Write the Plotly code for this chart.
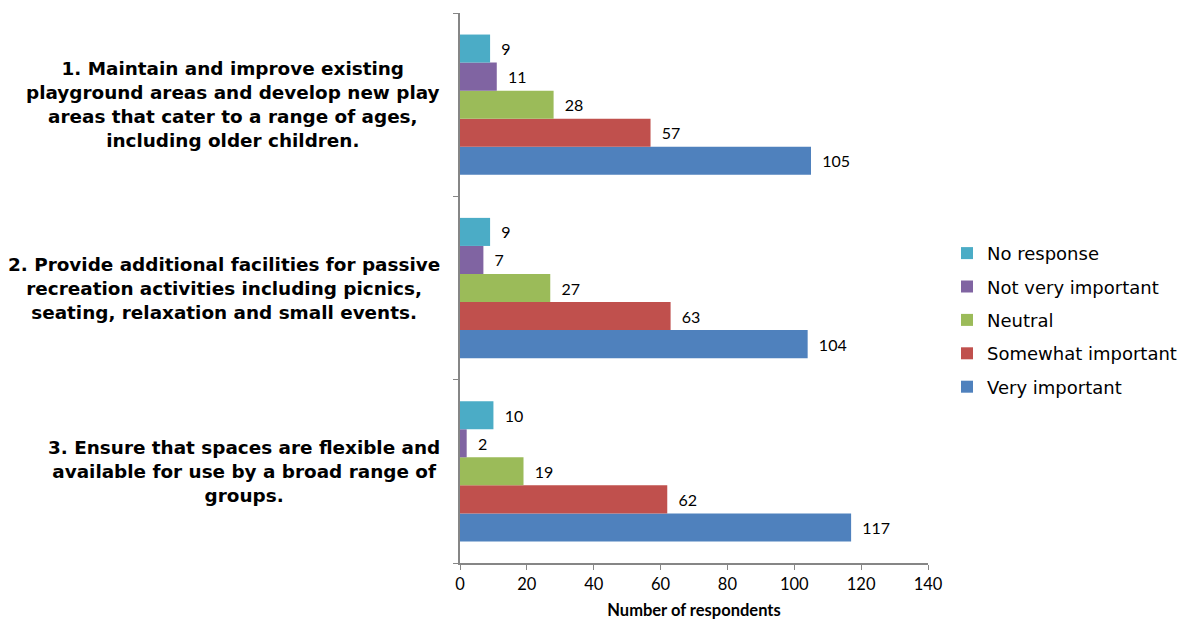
import plotly.graph_objects as go

categories = [
    "1. Maintain and improve existing<br>playground areas and develop new play<br>areas that cater to a range of ages,<br>including older children.",
    "2. Provide additional facilities for passive<br>recreation activities including picnics,<br>seating, relaxation and small events.",
    "3. Ensure that spaces are flexible and<br>available for use by a broad range of<br>groups.",
]
cat_keys = ["Q1", "Q2", "Q3"]

series_names = ["Very important", "Somewhat important", "Neutral", "Not very important", "No response"]
very_important = [105, 104, 117]
somewhat_important = [57, 63, 62]
neutral = [28, 27, 19]
not_very_important = [11, 7, 2]
no_response = [9, 9, 10]
series_values = [very_important, somewhat_important, neutral, not_very_important, no_response]
colors = ["#4F81BD", "#C0504D", "#9BBB59", "#8064A2", "#4BACC6"]

x_ticks = [0, 20, 40, 60, 80, 100, 120, 140]

fig = go.Figure()
n = len(series_names)
for i, (name, vals, col) in enumerate(zip(series_names, series_values, colors)):
    fig.add_trace(go.Bar(
        y=cat_keys, x=vals, name=name, orientation="h",
        legendgroup=name, legendrank=n - i,
        marker=dict(color=col, line=dict(width=0)),
        text=["\u00a0\u00a0" + str(v) for v in vals], textposition="outside",
        textfont=dict(family="Lato, Open Sans, sans-serif", size=16, color="#000000"),
        cliponaxis=False,
    ))

for key, label in zip(cat_keys, categories):
    fig.add_annotation(
        x=-0.0385, xref="paper", y=key, yref="y",
        text="<b>" + label + "</b>", showarrow=False,
        xanchor="right", yanchor="middle", align="center",
        font=dict(family="DejaVu Sans, Verdana, sans-serif", size=18.4, color="#000000"),
    )

# page body has an ~8px default margin; size the figure so the plot area lands where the reference has it
fig.update_layout(
    width=1178, height=614,
    margin=dict(l=452, r=258, t=5, b=59, autoexpand=False),
    paper_bgcolor="white", plot_bgcolor="white",
    barmode="group", bargap=0.235, bargroupgap=0,
    legend=dict(
        traceorder="grouped", x=1.0406, y=0.442, xanchor="left", yanchor="middle",
        font=dict(family="DejaVu Sans, Verdana, sans-serif", size=18, color="#000000"),
        itemsizing="constant", tracegroupgap=7, itemwidth=30,
    ),
    showlegend=True,
)
fig.update_xaxes(
    range=[0, 140], tickvals=x_ticks, ticktext=[str(t) for t in x_ticks],
    showgrid=False, zeroline=False, showline=True, linecolor="#868686", linewidth=1.5,
    ticks="outside", ticklen=5, tickcolor="#868686",
    tickfont=dict(family="Lato, Open Sans, sans-serif", size=16.5, color="#000000"),
    title=dict(text="<b>Number of respondents</b>", standoff=12,
               font=dict(family="Lato, Open Sans, sans-serif", size=16.5, color="#000000")),
)
fig.update_yaxes(
    categoryorder="array", categoryarray=cat_keys[::-1],
    showticklabels=False, showgrid=False, zeroline=False,
    showline=True, linecolor="#868686", linewidth=1.5,
    ticks="outside", tickson="boundaries", ticklen=5, tickcolor="#868686",
)

fig.write_html("out.html")
